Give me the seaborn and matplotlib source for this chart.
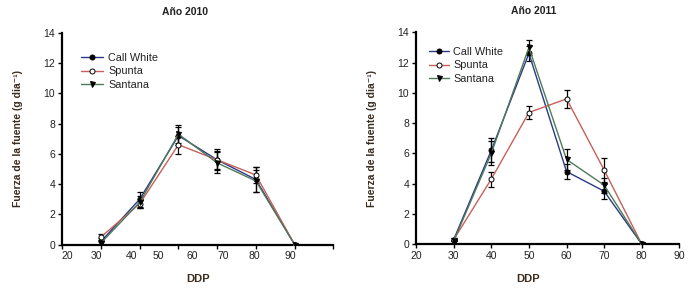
import numpy as np
import pandas as pd
import seaborn as sns
import matplotlib.pyplot as plt

sns.set_style("ticks")
plt.rcParams['font.family'] = ['Liberation Sans', 'DejaVu Sans']

varieties = ['Call White', 'Spunta', 'Santana']

# 2010 - sampling dates sit on evenly spaced tick marks
ddp_2010 = [31, 43, 55, 67, 79, 91]
cw_2010 = [0.2, 3.0, 7.2, 5.6, 4.3, 0.0]
sp_2010 = [0.5, 2.7, 6.6, 5.6, 4.6, 0.0]
sa_2010 = [0.1, 2.8, 7.3, 5.4, 4.2, 0.0]
cw_err_2010 = [0.2, 0.5, 0.6, 0.7, 0.8, 0.0]
sp_err_2010 = [0.2, 0.3, 0.6, 0.6, 0.5, 0.0]
sa_err_2010 = [0.1, 0.4, 0.6, 0.7, 0.7, 0.0]

# 2011
ddp_2011 = [30, 40, 50, 60, 70, 80]
cw_2011 = [0.3, 6.2, 12.6, 4.8, 3.5, 0.0]
sp_2011 = [0.3, 4.3, 8.7, 9.6, 4.9, 0.0]
sa_2011 = [0.2, 6.0, 13.0, 5.6, 3.9, 0.0]
cw_err_2011 = [0.1, 0.8, 0.5, 0.5, 0.5, 0.0]
sp_err_2011 = [0.1, 0.5, 0.4, 0.6, 0.8, 0.0]
sa_err_2011 = [0.1, 0.8, 0.5, 0.7, 0.5, 0.0]

xtick_labels = ['20', '30', '40', '50', '60', '70', '80', '90']

line_colors = {'Call White': '#2b3a86', 'Spunta': '#c8605a', 'Santana': '#4f7a5a'}
markers = {'Call White': 'o', 'Spunta': 'o', 'Santana': 'v'}
faces = {'Call White': 'black', 'Spunta': 'white', 'Santana': 'black'}
label_color = '#3a2c1e'


def draw_panel(ax, ddp, series, errs):
    for name, vals, err in zip(varieties, series, errs):
        df = pd.DataFrame({'DDP': ddp, 'val': vals})
        ax.errorbar(ddp, vals, yerr=err, fmt='none', ecolor='black',
                    elinewidth=0.9, capsize=2.5, capthick=0.9, zorder=2)
        sns.lineplot(data=df, x='DDP', y='val', ax=ax, label=name,
                     color=line_colors[name], lw=1.0, marker=markers[name],
                     markersize=3.6, markerfacecolor=faces[name],
                     markeredgecolor='black', markeredgewidth=0.7, zorder=3)
    ax.set_ylim(0, 14)
    ax.set_yticks(np.arange(0, 15, 2))
    for s in ['top', 'right']:
        ax.spines[s].set_visible(False)
    for s in ['left', 'bottom']:
        ax.spines[s].set_linewidth(1.6)
        ax.spines[s].set_color('black')
    ax.tick_params(axis='both', labelsize=7.5, colors='black', length=3,
                   width=1.0, labelcolor='#222222', pad=2)
    ax.set_ylabel('Fuerza de la fuente (g dia⁻¹)', fontsize=7.5,
                  fontweight='bold', color=label_color)
    ax.set_xlabel('DDP', fontsize=8, fontweight='bold', color=label_color)


fig = plt.figure(figsize=(6.95, 2.88), dpi=100)
ax1 = fig.add_axes([0.0896, 0.151, 0.390, 0.735])
ax2 = fig.add_axes([0.5986, 0.152, 0.379, 0.736])

draw_panel(ax1, ddp_2010, [cw_2010, sp_2010, sa_2010],
           [cw_err_2010, sp_err_2010, sa_err_2010])
draw_panel(ax2, ddp_2011, [cw_2011, sp_2011, sa_2011],
           [cw_err_2011, sp_err_2011, sa_err_2011])

# left panel: tick marks at the sampling dates, labels placed apart
ax1.set_xlim(19, 103)
ax1.set_xticks([19, 31, 43, 55, 67, 79, 91, 103])
ax1.set_xticklabels([])
ax1.set_xticks([20.4, 29.6, 40.5, 48.8, 59.4, 68.8, 78.4, 89.8], minor=True)
ax1.set_xticklabels(xtick_labels, minor=True)
ax1.tick_params(axis='x', which='minor', length=0, labelsize=7.5,
                labelcolor='#222222', pad=5)

ax2.set_xlim(20, 90)
ax2.set_xticks(np.arange(20, 91, 10))
ax2.set_xticklabels(xtick_labels)

ax1.yaxis.set_label_coords(-0.145, 0.5)
ax2.yaxis.set_label_coords(-0.148, 0.5)
ax1.xaxis.set_label_coords(0.5, -0.14)
ax2.xaxis.set_label_coords(0.427, -0.14)

ax1.set_title('Año 2010', fontsize=7.5, fontweight='bold', color='#222222',
              x=0.452, y=1.0, pad=13)
ax2.set_title('Año 2011', fontsize=7.5, fontweight='bold', color='#222222',
              x=0.446, y=1.0, pad=13)

ax1.legend(loc='upper left', bbox_to_anchor=(0.05, 0.93), frameon=False,
           fontsize=7.8, handlelength=2.0, handletextpad=0.5,
           labelspacing=0.3, borderpad=0, labelcolor='#222222')
ax2.legend(loc='upper left', bbox_to_anchor=(0.03, 0.955), frameon=False,
           fontsize=7.8, handlelength=1.8, handletextpad=0.4,
           labelspacing=0.3, borderpad=0, labelcolor='#222222')

fig.savefig('out.png', dpi=100)
